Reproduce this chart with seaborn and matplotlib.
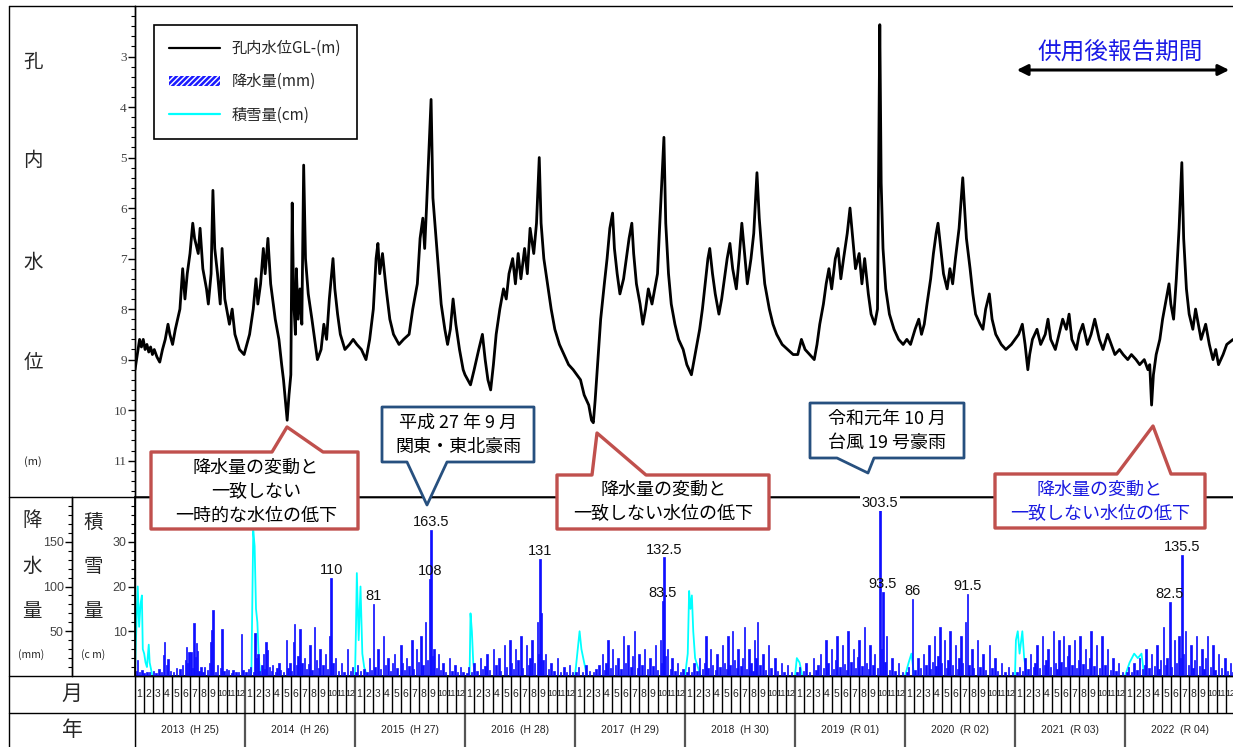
import numpy as np
import matplotlib
matplotlib.use("Agg")
import matplotlib.pyplot as plt
import seaborn as sns
from matplotlib.lines import Line2D
from matplotlib.patches import Patch, Polygon
from matplotlib import font_manager

# ---------------- data (x = months since 2013-01-01) ----------------
# groundwater level GL-(m): (month, depth)
wl_2013 = [(0, 9.2), (0.25, 8.9), (0.5, 8.6), (0.7, 8.75), (0.9, 8.6), (1.1, 8.8), (1.3, 8.7), (1.5, 8.85), (1.7, 8.75),
           (1.9, 8.9), (2.1, 8.8), (2.4, 8.95), (2.7, 9.05), (3.0, 8.8), (3.3, 8.6), (3.6, 8.3), (3.8, 8.5), (4.1, 8.7),
           (4.4, 8.4), (4.9, 8.0), (5.2, 7.2), (5.45, 7.8), (5.7, 7.3), (6.0, 6.9), (6.3, 6.3), (6.5, 6.6), (6.9, 6.9),
           (7.1, 6.4), (7.4, 7.2), (7.8, 7.6), (8.0, 7.9), (8.3, 7.3), (8.5, 5.65), (8.7, 6.8), (9.0, 7.3), (9.3, 7.9),
           (9.5, 6.8), (9.8, 7.8), (10.3, 8.3), (10.6, 8.0), (10.9, 8.5), (11.4, 8.8), (11.9, 8.9)]
wl_2014 = [(12.2, 8.7), (12.5, 8.5), (12.9, 8.0), (13.2, 7.4), (13.4, 7.9), (13.7, 7.5), (14.0, 6.8), (14.2, 7.3),
           (14.5, 6.6), (14.8, 7.5), (15.3, 8.2), (15.7, 8.6), (16.0, 9.1), (16.2, 9.4), (16.4, 9.8), (16.6, 10.2),
           (16.8, 9.7), (17.0, 9.3), (17.15, 5.9), (17.3, 7.8), (17.5, 8.5), (17.6, 7.2), (17.8, 8.2), (18.0, 7.6),
           (18.2, 8.3), (18.4, 5.15), (18.6, 7.0), (18.9, 7.7), (19.3, 8.2), (19.6, 8.6), (19.9, 9.0), (20.3, 8.8),
           (20.6, 8.3), (20.9, 8.6), (21.2, 7.8), (21.6, 7.0), (21.8, 7.6), (22.1, 8.1), (22.4, 8.5), (22.9, 8.8),
           (23.4, 8.7), (23.8, 8.6)]
wl_2015 = [(24.2, 8.7), (24.7, 8.8), (25.2, 9.0), (25.6, 8.6), (26.0, 8.0), (26.3, 7.0), (26.5, 6.7), (26.7, 7.3),
           (27.0, 6.9), (27.4, 7.6), (27.8, 8.2), (28.2, 8.5), (28.8, 8.7), (29.3, 8.6), (29.9, 8.5), (30.3, 8.0),
           (30.8, 7.5), (31.1, 6.6), (31.4, 6.2), (31.6, 6.8), (31.8, 6.0), (32.3, 3.85), (32.5, 5.8), (32.8, 6.5),
           (33.1, 7.2), (33.4, 7.9), (33.8, 8.4), (34.1, 8.7), (34.4, 8.4), (34.7, 7.8), (35.0, 8.3), (35.4, 8.8),
           (35.8, 9.2)]
wl_2016 = [(36.0, 9.3), (36.6, 9.5), (37.0, 9.2), (37.5, 8.8), (37.9, 8.5), (38.2, 9.0), (38.5, 9.4), (38.8, 9.6),
           (39.1, 9.1), (39.4, 8.5), (39.8, 8.0), (40.2, 7.6), (40.5, 7.8), (40.8, 7.3), (41.2, 7.0), (41.5, 7.5),
           (41.8, 6.9), (42.1, 7.4), (42.5, 6.8), (42.8, 7.3), (43.1, 6.4), (43.5, 6.9), (43.8, 6.3), (44.1, 5.0),
           (44.3, 6.3), (44.6, 7.0), (45.0, 7.5), (45.4, 8.0), (45.8, 8.4), (46.3, 8.7), (46.8, 8.9), (47.3, 9.1),
           (47.8, 9.2)]
wl_2017 = [(48.2, 9.3), (48.6, 9.4), (49.0, 9.7), (49.5, 9.9), (49.8, 10.2), (50.0, 10.25), (50.2, 9.8), (50.5, 9.0),
           (50.8, 8.2), (51.2, 7.5), (51.5, 7.0), (51.8, 6.4), (52.1, 6.1), (52.3, 6.8), (52.6, 7.3), (52.9, 7.7),
           (53.3, 7.4), (53.6, 7.0), (53.9, 6.6), (54.2, 6.3), (54.4, 6.9), (54.7, 7.5), (55.1, 7.9), (55.4, 8.3),
           (55.7, 8.0), (56.0, 7.6), (56.4, 7.9), (56.7, 7.6), (57.0, 7.3), (57.2, 6.5), (57.7, 4.6), (57.9, 6.3),
           (58.2, 7.3), (58.5, 7.9), (58.9, 8.3), (59.3, 8.6), (59.8, 8.8)]
wl_2018 = [(60.2, 9.1), (60.7, 9.3), (61.0, 9.0), (61.3, 8.7), (61.6, 8.4), (61.9, 8.0), (62.2, 7.5), (62.5, 7.0),
           (62.7, 6.8), (63.0, 7.3), (63.3, 7.7), (63.7, 8.1), (64.0, 7.8), (64.3, 7.4), (64.6, 7.0), (64.9, 6.7),
           (65.2, 7.2), (65.6, 7.6), (65.9, 7.0), (66.2, 6.3), (66.5, 6.9), (66.8, 7.5), (67.2, 7.0), (67.5, 6.5),
           (67.85, 5.3), (68.1, 6.2), (68.4, 6.9), (68.7, 7.5), (69.2, 8.0), (69.6, 8.3), (70.0, 8.5), (70.6, 8.7),
           (71.2, 8.8), (71.8, 8.9)]
wl_2019 = [(72.3, 8.9), (72.7, 8.6), (73.1, 8.8), (73.6, 8.9), (74.1, 9.0), (74.4, 8.7), (74.7, 8.3), (75.1, 7.9),
           (75.4, 7.5), (75.7, 7.2), (76.0, 7.6), (76.4, 7.0), (76.7, 6.8), (77.0, 7.4), (77.3, 7.0), (77.7, 6.5),
           (78.0, 6.0), (78.3, 6.6), (78.6, 7.2), (79.0, 6.9), (79.3, 7.5), (79.6, 7.0), (80.0, 7.7), (80.3, 8.1),
           (80.7, 8.3), (81.0, 8.0), (81.25, 2.37), (81.4, 5.5), (81.6, 6.8), (81.9, 7.6), (82.3, 8.1), (82.8, 8.4),
           (83.3, 8.6), (83.8, 8.7)]
wl_2020 = [(84.2, 8.6), (84.6, 8.7), (85.1, 8.4), (85.5, 8.2), (85.8, 8.5), (86.1, 8.3), (86.4, 7.9), (86.8, 7.4),
           (87.1, 6.9), (87.4, 6.5), (87.6, 6.3), (87.9, 6.8), (88.2, 7.3), (88.6, 7.6), (88.9, 7.2), (89.2, 7.5),
           (89.5, 7.0), (89.9, 6.4), (90.1, 5.9), (90.3, 5.4), (90.5, 6.0), (90.7, 6.6), (91.1, 7.2), (91.4, 7.7),
           (91.7, 8.1), (92.2, 8.3), (92.5, 8.4), (92.8, 8.0), (93.2, 7.7), (93.5, 8.2), (93.9, 8.5), (94.5, 8.7),
           (95.0, 8.8), (95.6, 8.7)]
wl_2021 = [(96.0, 8.6), (96.4, 8.5), (96.8, 8.3), (97.1, 8.7), (97.4, 9.2), (97.6, 8.9), (97.9, 8.6), (98.4, 8.4),
           (98.8, 8.7), (99.3, 8.5), (99.6, 8.2), (99.9, 8.6), (100.4, 8.8), (100.8, 8.5), (101.2, 8.2), (101.6, 8.4),
           (101.9, 8.1), (102.2, 8.6), (102.7, 8.8), (103.0, 8.5), (103.4, 8.3), (103.9, 8.7), (104.3, 8.5),
           (104.7, 8.2), (105.2, 8.6), (105.6, 8.8), (106.1, 8.5), (106.5, 8.7), (106.9, 8.9), (107.4, 8.8),
           (107.8, 8.9)]
wl_2022 = [(108.3, 9.0), (108.7, 8.9), (109.2, 9.0), (109.6, 9.1), (110.1, 9.0), (110.5, 9.2), (110.7, 9.1),
           (110.9, 9.9), (111.1, 9.3), (111.4, 8.9), (111.8, 8.6), (112.1, 8.2), (112.4, 7.9), (112.8, 7.5),
           (113.0, 7.9), (113.3, 8.2), (113.6, 7.4), (113.9, 6.4), (114.2, 5.1), (114.4, 6.6), (114.7, 7.6),
           (115.0, 8.1), (115.4, 8.4), (115.7, 8.0), (116.0, 8.3), (116.3, 8.6), (116.8, 8.3), (117.2, 8.7),
           (117.6, 9.0), (117.9, 8.8), (118.2, 9.1), (118.7, 8.9), (119.1, 8.7), (119.8, 8.6)]

# daily precipitation (mm): (month, mm)
rain_2013 = [(0.15, 6), (0.3, 18), (0.5, 4), (0.75, 7), (1.0, 3), (1.3, 5), (1.6, 4), (2.0, 6), (2.3, 3), (2.6, 8),
             (2.9, 5), (3.1, 23), (3.2, 38), (3.45, 12), (3.6, 19), (3.9, 6), (4.2, 4), (4.5, 9), (4.9, 8), (5.2, 12),
             (5.5, 18), (5.6, 32), (5.75, 14), (5.9, 27), (6.1, 27), (6.3, 9), (6.45, 59), (6.6, 21), (6.7, 37),
             (6.85, 28), (7.0, 6), (7.2, 10), (7.4, 5), (7.6, 10), (7.9, 7), (8.1, 14), (8.3, 38), (8.4, 51), (8.5, 74),
             (8.8, 4), (9.0, 12), (9.3, 9), (9.5, 52), (9.7, 6), (10.0, 8), (10.2, 7), (10.5, 3), (10.7, 7), (11.0, 5),
             (11.3, 4), (11.6, 47), (11.8, 7)]
rain_2014 = [(12.1, 5), (12.35, 8), (12.6, 10), (12.9, 4), (13.1, 48), (13.25, 20), (13.4, 25), (13.6, 6), (13.85, 12),
             (14.0, 25), (14.15, 8), (14.3, 38), (14.45, 29), (14.7, 10), (14.9, 6), (15.0, 12), (15.3, 5), (15.5, 9),
             (15.7, 15), (15.9, 7), (16.2, 4), (16.5, 40), (16.7, 9), (16.9, 14), (17.1, 6), (17.3, 38), (17.4, 58),
             (17.6, 12), (17.8, 22), (18.0, 52), (18.2, 15), (18.5, 20), (18.7, 8), (18.9, 13), (19.1, 35), (19.3, 7),
             (19.6, 55), (19.8, 18), (20.0, 9), (20.2, 30), (20.5, 12), (20.8, 25), (21.0, 8), (21.2, 45), (21.4, 110),
             (21.6, 14), (21.9, 20), (22.2, 6), (22.5, 15), (22.8, 5), (23.2, 30), (23.5, 6), (23.7, 10)]
rain_2015 = [(24.1, 4), (24.3, 12), (24.6, 6), (25.0, 8), (25.3, 5), (25.6, 20), (25.8, 7), (26.0, 81), (26.2, 10),
             (26.5, 30), (26.8, 8), (27.1, 45), (27.3, 12), (27.6, 20), (27.9, 6), (28.1, 15), (28.3, 25), (28.6, 9),
             (29.0, 35), (29.2, 14), (29.4, 7), (29.6, 20), (29.9, 11), (30.2, 40), (30.4, 8), (30.7, 30), (30.9, 16),
             (31.2, 45), (31.4, 12), (31.7, 60), (31.9, 18), (32.2, 108), (32.3, 163.5), (32.45, 22), (32.6, 30),
             (32.9, 9), (33.1, 25), (33.3, 7), (33.6, 15), (33.9, 5), (34.3, 20), (34.6, 6), (34.9, 12), (35.2, 4),
             (35.5, 10), (35.8, 5)]
rain_2016 = [(36.2, 3), (36.4, 10), (36.7, 5), (37.0, 15), (37.3, 6), (37.7, 20), (37.9, 8), (38.2, 11), (38.4, 25),
             (38.7, 7), (39.1, 30), (39.4, 12), (39.7, 20), (39.9, 6), (40.3, 35), (40.5, 10), (40.9, 40), (41.1, 14),
             (41.3, 8), (41.5, 30), (41.8, 18), (42.1, 45), (42.3, 9), (42.7, 35), (42.9, 12), (43.1, 20), (43.3, 40),
             (43.6, 15), (43.9, 60), (44.05, 25), (44.2, 131), (44.3, 70), (44.5, 18), (44.8, 25), (45.1, 8),
             (45.4, 15), (45.7, 6), (46.1, 20), (46.4, 5), (46.8, 10), (47.1, 4), (47.4, 12), (47.7, 5)]
rain_2017 = [(48.1, 4), (48.4, 10), (48.8, 5), (49.2, 12), (49.6, 6), (50.0, 4), (50.3, 8), (50.6, 12), (51.0, 25),
             (51.2, 7), (51.4, 14), (51.6, 40), (51.9, 9), (52.1, 30), (52.4, 12), (52.7, 20), (53.0, 8), (53.3, 45),
             (53.5, 14), (53.8, 35), (54.1, 10), (54.3, 22), (54.5, 50), (54.8, 9), (55.0, 25), (55.3, 12), (55.6, 30),
             (55.9, 8), (56.2, 20), (56.5, 11), (56.8, 35), (57.0, 7), (57.3, 40), (57.45, 15), (57.6, 83.5),
             (57.7, 132.5), (57.9, 22), (58.1, 30), (58.4, 8), (58.6, 20), (58.9, 6), (59.2, 15), (59.5, 5), (59.8, 8)]
rain_2018 = [(60.2, 5), (60.4, 10), (60.7, 4), (61.0, 15), (61.3, 6), (61.6, 20), (61.9, 8), (62.1, 14), (62.3, 45),
             (62.5, 9), (62.8, 30), (63.0, 12), (63.3, 7), (63.5, 25), (63.8, 10), (64.1, 35), (64.3, 14), (64.5, 8),
             (64.7, 45), (64.9, 12), (65.2, 50), (65.4, 18), (65.6, 9), (65.8, 30), (66.1, 11), (66.3, 20), (66.5, 55),
             (66.7, 8), (67.0, 30), (67.2, 14), (67.4, 6), (67.6, 40), (67.75, 20), (67.9, 60), (68.2, 12), (68.5, 25),
             (68.8, 7), (69.1, 35), (69.4, 9), (69.8, 20), (70.1, 6), (70.5, 15), (70.8, 5), (71.2, 12), (71.6, 5)]
rain_2019 = [(72.2, 4), (72.5, 10), (72.9, 6), (73.2, 15), (73.6, 5), (74.0, 20), (74.3, 7), (74.5, 12), (74.8, 25),
             (75.1, 9), (75.4, 40), (75.6, 14), (76.0, 30), (76.2, 8), (76.4, 18), (76.6, 45), (76.9, 10), (77.2, 35),
             (77.4, 13), (77.6, 7), (77.8, 50), (78.1, 16), (78.4, 30), (78.6, 9), (78.8, 21), (79.0, 40), (79.3, 11),
             (79.6, 55), (79.8, 14), (80.0, 8), (80.2, 35), (80.5, 12), (80.7, 25), (81.0, 9), (81.27, 303.5),
             (81.45, 30), (81.6, 93.5), (81.8, 16), (82.0, 45), (82.3, 7), (82.6, 20), (82.9, 6), (83.3, 15), (83.7, 5)]
rain_2020 = [(84.2, 4), (84.4, 10), (84.8, 86), (85.1, 7), (85.4, 20), (85.7, 9), (86.0, 25), (86.3, 12), (86.6, 35),
             (86.8, 8), (87.0, 16), (87.2, 45), (87.4, 11), (87.6, 22), (87.8, 55), (88.0, 14), (88.3, 40), (88.5, 9),
             (88.7, 18), (88.9, 50), (89.2, 12), (89.5, 35), (89.7, 8), (89.9, 20), (90.1, 45), (90.3, 15), (90.6, 60),
             (90.8, 91.5), (91.0, 12), (91.3, 30), (91.5, 9), (91.9, 40), (92.2, 10), (92.5, 25), (92.8, 7), (93.2, 35),
             (93.5, 9), (93.8, 20), (94.1, 6), (94.5, 15), (94.9, 5), (95.3, 10), (95.7, 4)]
rain_2021 = [(96.2, 4), (96.5, 10), (96.8, 6), (97.1, 20), (97.4, 8), (97.7, 25), (98.0, 10), (98.2, 15), (98.4, 35),
             (98.7, 9), (99.0, 45), (99.2, 12), (99.4, 18), (99.6, 30), (99.9, 10), (100.2, 50), (100.4, 14), (100.6, 8),
             (100.8, 40), (101.0, 16), (101.3, 45), (101.5, 10), (101.7, 22), (101.9, 35), (102.2, 12), (102.5, 40),
             (102.7, 9), (102.9, 18), (103.1, 45), (103.4, 13), (103.7, 30), (103.9, 8), (104.1, 20), (104.3, 50),
             (104.6, 11), (104.9, 35), (105.2, 9), (105.5, 45), (105.8, 12), (106.1, 30), (106.4, 7), (106.7, 20),
             (107.0, 6), (107.3, 15), (107.7, 5)]
rain_2022 = [(108.2, 4), (108.4, 10), (108.7, 5), (109.0, 15), (109.3, 7), (109.6, 20), (109.9, 8), (110.1, 12),
             (110.3, 30), (110.6, 9), (110.9, 25), (111.2, 11), (111.5, 35), (111.7, 8), (111.9, 18), (112.2, 55),
             (112.4, 12), (112.6, 20), (112.9, 82.5), (113.1, 10), (113.4, 40), (113.6, 14), (113.9, 45), (114.05, 20),
             (114.2, 135.5), (114.4, 25), (114.6, 50), (114.9, 12), (115.2, 35), (115.4, 9), (115.6, 18), (115.8, 45),
             (116.1, 11), (116.4, 30), (116.6, 8), (116.8, 20), (117.0, 45), (117.3, 10), (117.6, 35), (117.8, 7),
             (118.2, 25), (118.5, 9), (118.9, 20), (119.2, 6), (119.5, 15), (119.8, 5)]
rain_labeled = [110, 81, 163.5, 108, 131, 132.5, 83.5, 303.5, 93.5, 86, 91.5, 135.5, 82.5]

# snow depth (cm): (month, cm)
snow_pts = [(0.0, 0), (0.1, 8), (0.3, 20), (0.45, 11), (0.6, 16), (0.75, 18), (0.85, 6), (1.0, 5), (1.15, 3), (1.3, 2),
            (1.5, 7), (1.6, 3), (1.9, 0),
            (12.6, 0), (12.7, 1), (12.9, 32.5), (13.05, 29), (13.2, 15), (13.35, 12), (13.5, 4), (13.7, 0),
            (24.0, 0), (24.1, 10), (24.2, 23), (24.4, 8), (24.6, 20), (24.8, 5), (25.0, 2), (25.3, 0),
            (36.5, 0), (36.6, 14), (36.75, 10), (36.9, 3), (37.1, 0),
            (48.0, 0), (48.2, 4), (48.5, 10), (48.7, 6), (49.0, 3), (49.3, 0),
            (60.0, 0), (60.3, 5), (60.45, 19), (60.6, 15), (60.75, 18), (60.9, 10), (61.1, 4), (61.4, 2), (61.7, 0),
            (72.0, 0), (72.2, 4), (72.5, 3), (72.8, 0),
            (84.0, 0), (84.4, 3), (84.7, 5), (85.0, 0),
            (96.0, 0), (96.1, 8), (96.3, 10), (96.5, 5), (96.8, 10), (97.0, 4), (97.3, 0),
            (108.0, 0), (108.5, 3), (109.0, 5), (109.4, 4), (109.8, 5), (110.1, 0), (120.0, 0)]

years = [2013, 2014, 2015, 2016, 2017, 2018, 2019, 2020, 2021, 2022]
eras = ["H 25", "H 26", "H 27", "H 28", "H 29", "H 30", "R 01", "R 02", "R 03", "R 04"]
month_labels = [str(i) for i in range(1, 13)]

wl_all = wl_2013 + wl_2014 + wl_2015 + wl_2016 + wl_2017 + wl_2018 + wl_2019 + wl_2020 + wl_2021 + wl_2022
wl_month = [p[0] for p in wl_all]
wl_depth = [p[1] for p in wl_all]
rain_all = (rain_2013 + rain_2014 + rain_2015 + rain_2016 + rain_2017 + rain_2018 + rain_2019 + rain_2020
            + rain_2021 + rain_2022)
rain_month = [p[0] for p in rain_all]
rain_mm = [p[1] for p in rain_all]
snow_month = [p[0] for p in snow_pts]
snow_cm = [p[1] for p in snow_pts]

# ---------------- style ----------------
sns.set_theme(style="white")
plt.rcParams["font.family"] = ["Noto Sans CJK JP", "DejaVu Sans"]
names = {f.name for f in font_manager.fontManager.ttflist}
NARROW = "Liberation Sans Narrow" if "Liberation Sans Narrow" in names else "Liberation Sans"
SERIF = "Liberation Serif"

W, H = 1233, 747
fig = plt.figure(figsize=(W / 100, H / 100), dpi=100)
fig.patch.set_facecolor("white")


def fx(px):
    return px / W


def fy(py):
    return 1 - py / H


X0, X1 = 135, 1235
axw = (X1 - X0) / W
ax = fig.add_axes([fx(X0), fy(497), axw, (497 - 6) / H])
axp = fig.add_axes([fx(X0), fy(676), axw, (676 - 497) / H])
axs = axp.twinx()
axc = fig.add_axes([fx(X0), 0, axw, fy(676)])
ax.set_zorder(0)
axs.set_zorder(0.5)
axp.set_zorder(1)
axp.patch.set_visible(False)

# ---------------- water level ----------------
sns.lineplot(x=wl_month, y=wl_depth, ax=ax, color="black", lw=2.0, estimator=None, sort=False)
ax.set_xlim(0, 120)
ax.set_ylim(11.72, 2.0)
ax.set_yticks(range(3, 12))
ax.set_yticks(np.arange(2.2, 11.75, 0.2), minor=True)
ax.set_xticks([])
ax.set_xlabel("")
ax.set_ylabel("")
ax.tick_params(axis="y", which="major", left=True, direction="out", length=5, width=1,
               color="black", labelsize=9.5, labelcolor="#444444", pad=1)
ax.tick_params(axis="y", which="minor", left=True, direction="out", length=3, width=0.8, color="black")
for lab in ax.get_yticklabels():
    lab.set_fontfamily(SERIF)
for s in ax.spines.values():
    s.set_color("black")
    s.set_linewidth(1)

# ---------------- precipitation / snow ----------------
CAP = 185
rain_plot = [min(v, CAP) for v in rain_mm]
axp.bar(rain_month, rain_plot, width=0.15, color="#0f0fff", edgecolor="#0f0fff", linewidth=0.5, zorder=3)
for m, v in zip(rain_month, rain_mm):
    if v in rain_labeled:
        kw = {}
        if v > CAP:
            kw = dict(bbox=dict(facecolor="white", edgecolor="none", pad=1))
        axp.text(m, min(v, CAP) + 1, f"{v:g}", ha="center", va="bottom", fontsize=10.5,
                 fontfamily=NARROW, color="#111111", clip_on=False, zorder=5, **kw)
axp.set_xlim(0, 120)
axp.set_ylim(0, 200)
axp.set_yticks([50, 100, 150])
axp.set_yticks(np.arange(10, 200, 10), minor=True)
axp.set_xticks([])
axp.spines["left"].set_position(("outward", 63 * 72 / 100))
axp.spines["right"].set_visible(False)
for k in ["left", "bottom", "top"]:
    axp.spines[k].set_color("black")
    axp.spines[k].set_linewidth(1)
axp.tick_params(axis="y", which="major", left=True, direction="out", length=5, width=1,
                color="black", labelsize=9, labelcolor="#444444", pad=1)
axp.tick_params(axis="y", which="minor", left=True, direction="out", length=3, width=0.8, color="black")
for lab in axp.get_yticklabels():
    lab.set_fontfamily(NARROW)

sns.lineplot(x=snow_month, y=snow_cm, ax=axs, color="#00ffff", lw=1.3, estimator=None, sort=False)
axs.set_ylim(0, 40)
axs.set_xlim(0, 120)
axs.yaxis.tick_left()
axs.set_ylabel("")
axs.set_yticks([10, 20, 30])
axs.set_yticks(np.arange(2, 40, 2), minor=True)
axs.spines["left"].set_visible(True)
axs.spines["left"].set_color("black")
axs.spines["right"].set_visible(False)
axs.tick_params(axis="y", which="major", left=True, right=False, direction="out", length=5, width=1,
                color="black", labelsize=9, labelcolor="#444444", pad=1)
axs.tick_params(axis="y", which="minor", left=True, right=False, direction="out", length=3, width=0.8,
                color="black")
for lab in axs.get_yticklabels():
    lab.set_fontfamily(NARROW)

# ---------------- calendar rows ----------------
axc.set_xlim(0, 120)
axc.set_ylim(0, 71)
axc.axis("off")
for i in range(121):
    if i % 12 == 0:
        axc.vlines(i, 0, 71, color="#555555", lw=1.6)
    else:
        axc.vlines(i, 34, 71, color="black", lw=1)
for i in range(120):
    lab = month_labels[i % 12]
    axc.text(i + 0.5, 53, lab, ha="center", va="center", fontsize=7.5 if len(lab) == 1 else 6.3,
             fontfamily=NARROW, color="#222222")
for k, (y, e) in enumerate(zip(years, eras)):
    axc.text(12 * k + 6, 17, f"{y}  ({e})", ha="center", va="center", fontsize=7.5,
             fontfamily=NARROW, color="#222222")


# ---------------- frame lines ----------------
def fline(x0, y0, x1, y1, lw=1, color="black"):
    fig.add_artist(Line2D([fx(x0), fx(x1)], [fy(y0), fy(y1)], transform=fig.transFigure,
                          color=color, lw=lw, zorder=2))


fline(9, 6, 135, 6)
fline(9, 6, 9, 747)
fline(9, 497, 135, 497)
fline(9, 676, 1233, 676)
fline(9, 713, 1233, 713)
fline(72, 497, 72, 676)
fline(135, 6, 135, 747)

# ---------------- side labels ----------------
for ch, (px, py) in zip("孔内水位", [(33, 62), (33, 160), (33, 262), (33, 362)]):
    fig.text(fx(px), fy(py), ch, ha="center", va="center", fontsize=14)
fig.text(fx(33), fy(462), "(m)", ha="center", va="center", fontsize=8)
for ch, (px, py) in zip("降水量", [(32, 520), (32, 566), (32, 611)]):
    fig.text(fx(px), fy(py), ch, ha="center", va="center", fontsize=14)
for ch, (px, py) in zip("積雪量", [(93, 522), (93, 567), (93, 612)]):
    fig.text(fx(px), fy(py), ch, ha="center", va="center", fontsize=14)
fig.text(fx(31), fy(655), "(mm)", ha="center", va="center", fontsize=7.5)
fig.text(fx(93), fy(655), "(c m)", ha="center", va="center", fontsize=7.5)
fig.text(fx(72), fy(694), "月", ha="center", va="center", fontsize=15)
fig.text(fx(72), fy(730), "年", ha="center", va="center", fontsize=15)

# ---------------- legend ----------------
handles = [Line2D([0], [0], color="black", lw=1.6),
           Patch(facecolor="#1a1aff", edgecolor="white", hatch="//////", linewidth=0),
           Line2D([0], [0], color="#00ffff", lw=1.6)]
leg = fig.legend(handles, ["孔内水位GL-(m)", "降水量(mm)", "積雪量(cm)"], loc="upper left",
                 bbox_to_anchor=(fx(154), fy(25)), borderaxespad=0, frameon=True, fancybox=False,
                 edgecolor="black", framealpha=1, fontsize=11, handlelength=3.3, handletextpad=0.8,
                 labelspacing=1.05, borderpad=1.0)
leg.get_frame().set_linewidth(1.2)
leg.set_zorder(12)

# ---------------- callouts ----------------
RED = "#c0504d"
NAVY = "#27507f"


def callout(pts, ec, lw):
    poly = Polygon([(fx(a), fy(b)) for a, b in pts], closed=True, transform=fig.transFigure,
                   facecolor="white", edgecolor=ec, lw=lw, joinstyle="round", zorder=10)
    fig.add_artist(poly)


def ctext(px, py, s, color="black", size=13):
    fig.text(fx(px), fy(py), s, ha="center", va="center", fontsize=size, color=color, zorder=11)


callout([(151, 452), (272, 452), (287, 427), (323, 452), (358, 452), (358, 529), (151, 529)], RED, 2.4)
ctext(256, 468, "降水量の変動と")
ctext(256, 492, "一致しない")
ctext(256, 516, "一時的な水位の低下")

callout([(382, 407), (534, 407), (534, 462), (447, 462), (427, 505), (407, 462), (382, 462)], NAVY, 2.0)
ctext(458, 423, "平成 27 年 9 月")
ctext(458, 447, "関東・東北豪雨")

callout([(557, 475), (592, 475), (597, 433), (646, 475), (769, 475), (769, 529), (557, 529)], RED, 2.4)
ctext(663, 490, "降水量の変動と")
ctext(663, 514, "一致しない水位の低下")

callout([(810, 403), (964, 403), (964, 458), (874, 458), (868, 473), (837, 458), (810, 458)], NAVY, 2.0)
ctext(887, 419, "令和元年 10 月")
ctext(887, 443, "台風 19 号豪雨")

callout([(995, 474), (1117, 474), (1153, 426), (1171, 474), (1205, 474), (1205, 528), (995, 528)], RED, 2.4)
ctext(1100, 490, "降水量の変動と", color="#1a1ae0")
ctext(1100, 514, "一致しない水位の低下", color="#1a1ae0")

# ---------------- report period arrow ----------------
fig.text(fx(1120), fy(53), "供用後報告期間", ha="center", va="center", fontsize=17, color="#1a1ae6",
         zorder=11)
fig.add_artist(matplotlib.patches.FancyArrowPatch((fx(1014), fy(70)), (fx(1232), fy(70)),
                                                  transform=fig.transFigure, arrowstyle="<|-|>",
                                                  mutation_scale=16, lw=2.2, color="black", zorder=11))

fig.savefig("out.png", dpi=100, facecolor="white")
